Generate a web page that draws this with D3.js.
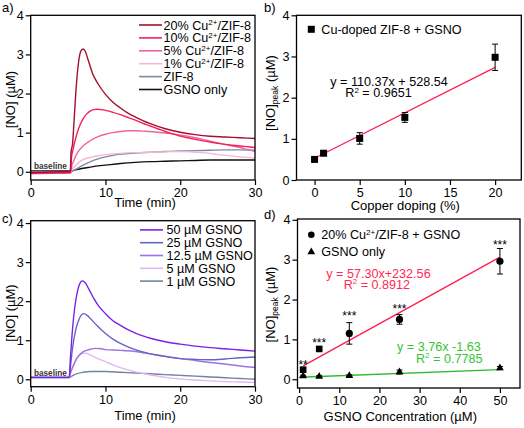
<!DOCTYPE html>
<html><head><meta charset="utf-8">
<script src="https://cdn.jsdelivr.net/npm/d3@7"></script>
<style>
html,body{margin:0;padding:0;background:#fff;}
svg{display:block;font-family:"Liberation Sans",Arial,Helvetica,sans-serif;}
</style></head>
<body>
<svg id="c" width="524" height="428"></svg>
<script>
// ---------- DATA ----------
// Panel a: NO release curves (time min, [NO] µM)
const aNames = ["20% Cu²⁺/ZIF-8","10% Cu²⁺/ZIF-8","5% Cu²⁺/ZIF-8","1% Cu²⁺/ZIF-8","ZIF-8","GSNO only"];
const aColors = ["#a50f2f","#f5205a","#f063a2","#f8b6d2","#7a89a4","#111111"];
const a20 = [[0,-0.02],[2,-0.01],[4,0],[5.3,0.01],[5.4,0.5],[5.6,0.72],[5.8,1.3],[6.1,2.2],[6.4,2.8],[6.7,3.08],[7.0,3.14],[7.3,3.08],[7.7,2.85],[8.3,2.5],[9,2.25],[10,1.98],[11,1.78],[12,1.63],[13,1.5],[14,1.4],[15,1.31],[16,1.23],[18,1.1],[20,1.01],[22,0.95],[24,0.91],[26,0.89],[28,0.87],[30,0.85]];
const a10 = [[0,-0.04],[3,-0.03],[5.35,-0.02],[5.45,0.35],[5.7,0.6],[6,0.85],[6.5,1.15],[7,1.35],[7.5,1.48],[8,1.56],[8.8,1.6],[9.5,1.59],[10,1.57],[11,1.52],[12,1.46],[13,1.39],[14,1.32],[15,1.24],[16,1.17],[17,1.1],[18,1.03],[19,0.97],[20,0.91],[21,0.87],[22,0.83],[23,0.79],[24,0.76],[25,0.73],[26,0.7],[27,0.68],[28,0.66],[29,0.64],[30,0.62]];
const a5 = [[0,-0.05],[3,-0.04],[5.35,-0.03],[5.45,0.1],[5.8,0.3],[6.3,0.5],[7,0.66],[8,0.8],[9,0.9],[10,0.96],[11,1.0],[12,1.03],[13,1.05],[14,1.05],[15,1.04],[16,1.03],[17,1.01],[18,0.99],[19,0.97],[20,0.94],[21,0.91],[22,0.87],[23,0.83],[24,0.78],[25,0.74],[26,0.7],[27,0.66],[28,0.62],[29,0.57],[30,0.52]];
const a1 = [[0,-0.03],[5.35,-0.02],[5.5,0.05],[6,0.15],[6.5,0.25],[7,0.31],[8,0.37],[9,0.41],[10,0.44],[12,0.47],[14,0.49],[16,0.5],[18,0.51],[20,0.52],[22,0.5],[23,0.49],[24,0.47],[25,0.44],[26,0.42],[27,0.4],[28,0.38],[30,0.35]];
const aZif = [[0,0.0],[5.35,0.0],[5.6,0.02],[6,0.06],[7,0.17],[8,0.26],[9,0.33],[10,0.38],[11,0.42],[12,0.45],[14,0.48],[16,0.5],[18,0.52],[20,0.53],[22,0.54],[24,0.55],[26,0.56],[28,0.56],[30,0.55]];
const aGsno = [[0,0.02],[5.35,0.02],[6,0.05],[7,0.09],[8,0.12],[9,0.15],[10,0.17],[12,0.21],[14,0.24],[16,0.26],[18,0.27],[20,0.28],[22,0.29],[24,0.3],[26,0.3],[28,0.3],[30,0.3]];
const aSeries = [a20,a10,a5,a1,aZif,aGsno];

// Panel b: peak NO vs copper doping
const bDoping = [0,1,5,10,20];
const bPeak = [0.5,0.65,1.01,1.52,2.98];
const bErr = [0.03,0.04,0.14,0.12,0.32];
const bFit = {slope:0.11037, intercept:0.52854, from:0, to:20};

// Panel c: NO release with GSNO concentration
const cNames = ["50 µM GSNO","25 µM GSNO","12.5 µM GSNO","5 µM GSNO","1 µM GSNO"];
const cColors = ["#7a22e6","#6464c8","#a070e0","#e2b8f2","#74849c"];
const c50 = [[0,0.05],[5.15,0.05],[5.3,0.5],[5.6,1.3],[5.9,1.85],[6.2,2.2],[6.5,2.42],[6.9,2.52],[7.3,2.47],[7.8,2.3],[8.5,2.05],[9,1.9],[10,1.68],[11,1.5],[12,1.38],[13,1.27],[14,1.18],[15,1.11],[16,1.05],[18,0.96],[20,0.9],[22,0.85],[24,0.81],[26,0.78],[28,0.75],[30,0.72]];
const c25 = [[0,0.05],[5.15,0.05],[5.3,0.3],[5.6,0.8],[6,1.25],[6.5,1.55],[7.1,1.68],[7.6,1.63],[8,1.55],[9,1.35],[10,1.17],[11,1.03],[12,0.92],[13,0.83],[14,0.76],[15,0.7],[16,0.65],[18,0.58],[20,0.53],[22,0.51],[24,0.5],[26,0.52],[28,0.55],[30,0.57]];
const c12 = [[0,0.05],[5.15,0.05],[5.3,0.15],[5.7,0.35],[6.2,0.55],[7,0.7],[8,0.77],[8.6,0.79],[9.5,0.78],[10,0.76],[11,0.75],[12,0.74],[13,0.73],[14,0.71],[15,0.68],[16,0.65],[17,0.62],[18,0.59],[19,0.56],[20,0.53],[22,0.48],[24,0.43],[26,0.39],[28,0.34],[30,0.3]];
const c5 = [[0,0.05],[5.15,0.05],[5.3,0.15],[5.7,0.35],[6.2,0.55],[6.8,0.65],[7.3,0.67],[8,0.62],[9,0.53],[10,0.45],[11,0.37],[12,0.3],[13,0.24],[14,0.19],[15,0.15],[16,0.11],[17,0.08],[18,0.05],[20,0.01],[22,-0.02],[24,-0.04],[26,-0.06],[28,-0.07],[30,-0.08]];
const c1 = [[0,0.04],[5.15,0.04],[5.5,0.08],[6,0.13],[7,0.18],[8,0.2],[9,0.2],[10,0.2],[12,0.18],[14,0.16],[16,0.14],[18,0.12],[20,0.1],[22,0.08],[24,0.06],[26,0.04],[28,0.02],[30,0.0]];
const cSeries = [c50,c25,c12,c5,c1];

// Panel d: peak NO vs GSNO concentration
const dConc = [1,5,12.5,25,50];
const dCu = [0.24,0.76,1.15,1.5,2.96];
const dCuErr = [0.04,0.04,0.27,0.12,0.32];
const dGsno = [0.08,0.07,0.09,0.18,0.28];
const dGsnoErr = [0.02,0.02,0.02,0.05,0.04];
const dStars = ["**","***","***","***","***"];
const dStarY = [0.42,0.98,1.64,1.83,3.42];
const dCuFit = {slope:0.0557, intercept:0.28, from:1, to:50};
const dGsnoFit = {slope:0.0038, intercept:0.05, from:0, to:50};

const timeTicks = [0,10,20,30];
const yTicks = [0,1,2,3,4];
const bTicks = [0,5,10,15,20];
const dTicks = [0,10,20,30,40,50];

// ---------- DRAWING ----------
const svg = d3.select("#c");
const FONT = 12.6;
const fmt = d3.format("d");

function frame(x, y, xt, yt) {
  const g = svg.append("g");
  const [x0,x1] = x.range(), [y0,y1] = y.range();
  const ax = g.append("g").attr("transform",`translate(0,${y0})`)
    .call(d3.axisBottom(x).tickValues(xt).tickFormat(fmt).tickSize(5).tickPadding(3).tickSizeOuter(0));
  const ay = g.append("g").attr("transform",`translate(${x0},0)`)
    .call(d3.axisLeft(y).tickValues(yt).tickFormat(fmt).tickSize(5).tickPadding(2).tickSizeOuter(0));
  [ax,ay].forEach(a=>{
    a.select(".domain").remove();
    a.selectAll("text").attr("font-size",FONT).attr("fill","#000").attr("font-family",null);
    a.selectAll("line").attr("stroke","#000").attr("stroke-width",1.2);
  });
  g.append("rect").attr("x",x0).attr("y",y1).attr("width",x1-x0).attr("height",y0-y1)
    .attr("fill","none").attr("stroke","#000").attr("stroke-width",1.3);
  return g;
}

function ylabel(cx, cy, peak) {
  const t = svg.append("text").attr("transform",`translate(${cx},${cy}) rotate(-90)`)
    .attr("text-anchor","middle").attr("font-size",13);
  t.append("tspan").text("[NO]");
  if (peak) {
    t.append("tspan").attr("font-size",8.5).attr("dy",3).text("peak");
    t.append("tspan").attr("dy",-3).text(" (µM)");
  } else t.append("tspan").text(" (µM)");
}
function xlabel(cx, y, s) {
  svg.append("text").attr("x",cx).attr("y",y).attr("text-anchor","middle").attr("font-size",13).text(s);
}
function supText(x, y, s, color) {
  const t = svg.append("text").attr("x",x).attr("y",y).attr("font-size",FONT).attr("fill",color||"#000");
  const m = s.match(/^(.*?)(²⁺|²)(.*)$/);
  if (!m) { t.text(s); return t; }
  t.append("tspan").text(m[1]);
  t.append("tspan").attr("font-size",8).attr("dy",-4.5).text(m[2]==="²⁺"?"2+":"2");
  t.append("tspan").attr("dy",4.5).text(m[3]);
  return t;
}

// ---- Panel a ----
const xa = d3.scaleLinear().domain([0,30]).range([30.7,255]);
const ya = d3.scaleLinear().domain([-0.21,4]).range([180,15.3]);
const line_a = d3.line().x(d=>xa(d[0])).y(d=>ya(d[1])).curve(d3.curveMonotoneX);
const defs = svg.append("defs");
defs.append("clipPath").attr("id","clipA").append("rect")
  .attr("x",30.7).attr("y",15.3).attr("width",224.3).attr("height",164.7);
const ga = svg.append("g").attr("clip-path","url(#clipA)");
aSeries.slice().reverse().forEach((s,i)=>{
  const k = aSeries.length-1-i;
  ga.append("path").attr("d",line_a(s)).attr("fill","none").attr("stroke",aColors[k]).attr("stroke-width",1.4);
});
frame(xa, ya, timeTicks, yTicks);
aNames.forEach((n,i)=>{
  const yy = 25 + i*12.9;
  svg.append("line").attr("x1",139).attr("x2",162).attr("y1",yy).attr("y2",yy).attr("stroke",aColors[i]).attr("stroke-width",1.6);
  supText(163.5, yy+4.5, n);
});
svg.append("text").attr("x",34).attr("y",168.5).attr("font-size",8.2).attr("font-weight","600").attr("fill","#333").text("baseline");
ylabel(15, 99.5, false);
xlabel(145, 207, "Time (min)");
svg.append("text").attr("x",2).attr("y",11.5).attr("font-size",13).text("a)");

// ---- Panel b ----
const xb = d3.scaleLinear().domain([-2,22.9]).range([296.5,521.3]);
const yb = d3.scaleLinear().domain([0,4]).range([180,15.3]);
frame(xb, yb, bTicks, yTicks);
svg.append("line").attr("x1",xb(bFit.from)).attr("x2",xb(bFit.to))
  .attr("y1",yb(bFit.intercept+bFit.slope*bFit.from)).attr("y2",yb(bFit.intercept+bFit.slope*bFit.to))
  .attr("stroke","#ff2050").attr("stroke-width",1.3);
bDoping.forEach((d,i)=>{
  const cx = xb(d);
  const g = svg.append("g").attr("stroke","#000").attr("stroke-width",1);
  g.append("line").attr("x1",cx).attr("x2",cx).attr("y1",yb(bPeak[i]-bErr[i])).attr("y2",yb(bPeak[i]+bErr[i]));
  [bPeak[i]-bErr[i], bPeak[i]+bErr[i]].forEach(v=>g.append("line").attr("x1",cx-3).attr("x2",cx+3).attr("y1",yb(v)).attr("y2",yb(v)));
  svg.append("rect").attr("x",cx-3.5).attr("y",yb(bPeak[i])-3.5).attr("width",7).attr("height",7).attr("fill","#000");
});
svg.append("rect").attr("x",311.3-3.5).attr("y",29.3-3.5).attr("width",7).attr("height",7).attr("fill","#000");
svg.append("text").attr("x",321.3).attr("y",33.8).attr("font-size",FONT).text("Cu-doped ZIF-8 + GSNO");
svg.append("text").attr("x",330.3).attr("y",85.5).attr("font-size",FONT).text("y = 110.37x + 528.54");
supText(345.3, 97.2, "R² = 0.9651");
ylabel(275, 93, true);
xlabel(405.3, 209.5, "Copper doping (%)");
svg.append("text").attr("x",264).attr("y",11.5).attr("font-size",13).text("b)");

// ---- Panel c ----
const xc = d3.scaleLinear().domain([0,30]).range([30.7,255]);
const yc = d3.scaleLinear().domain([-0.19,4.06]).range([386.7,220.7]);
const line_c = d3.line().x(d=>xc(d[0])).y(d=>yc(d[1])).curve(d3.curveMonotoneX);
defs.append("clipPath").attr("id","clipC").append("rect")
  .attr("x",30.7).attr("y",220.7).attr("width",224.3).attr("height",166);
const gc = svg.append("g").attr("clip-path","url(#clipC)");
cSeries.slice().reverse().forEach((s,i)=>{
  const k = cSeries.length-1-i;
  gc.append("path").attr("d",line_c(s)).attr("fill","none").attr("stroke",cColors[k]).attr("stroke-width",1.4);
});
frame(xc, yc, timeTicks, yTicks);
cNames.forEach((n,i)=>{
  const yy = 229.9 + i*12.8;
  svg.append("line").attr("x1",140).attr("x2",163).attr("y1",yy).attr("y2",yy).attr("stroke",cColors[i]).attr("stroke-width",1.6);
  svg.append("text").attr("x",166.5).attr("y",yy+4.5).attr("font-size",FONT).text(n);
});
svg.append("text").attr("x",34).attr("y",375.5).attr("font-size",8.2).attr("font-weight","600").attr("fill","#333").text("baseline");
ylabel(15, 313, false);
xlabel(145, 420, "Time (min)");
svg.append("text").attr("x",2).attr("y",223).attr("font-size",13).text("c)");

// ---- Panel d ----
const xd = d3.scaleLinear().domain([-0.4,55]).range([297.5,520]);
const yd = d3.scaleLinear().domain([-0.22,4.02]).range([388,219]);
frame(xd, yd, dTicks, yTicks);
[[dCuFit,"#ff2050"],[dGsnoFit,"#2eb82e"]].forEach(([f,col])=>{
  svg.append("line").attr("x1",xd(f.from)).attr("x2",xd(f.to))
    .attr("y1",yd(f.intercept+f.slope*f.from)).attr("y2",yd(f.intercept+f.slope*f.to))
    .attr("stroke",col).attr("stroke-width",1.4);
});
function errbar(cx, v, e, ys) {
  const g = svg.append("g").attr("stroke","#000").attr("stroke-width",1);
  g.append("line").attr("x1",cx).attr("x2",cx).attr("y1",ys(v-e)).attr("y2",ys(v+e));
  [v-e, v+e].forEach(u=>g.append("line").attr("x1",cx-3).attr("x2",cx+3).attr("y1",ys(u)).attr("y2",ys(u)));
}
const tri = d3.symbol().type(d3.symbolTriangle).size(26);
dConc.forEach((c,i)=>{
  const cx = xd(c);
  errbar(cx, dGsno[i], dGsnoErr[i], yd);
  svg.append("path").attr("d",tri()).attr("transform",`translate(${cx},${yd(dGsno[i])})`).attr("fill","#000");
  errbar(cx, dCu[i], dCuErr[i], yd);
  if (i<2) svg.append("rect").attr("x",cx-3.3).attr("y",yd(dCu[i])-3.3).attr("width",6.6).attr("height",6.6).attr("fill","#000");
  else svg.append("circle").attr("cx",cx).attr("cy",yd(dCu[i])).attr("r",3.6).attr("fill","#000");
  svg.append("text").attr("x",cx).attr("y",yd(dStarY[i])+6.5).attr("text-anchor","middle").attr("font-size",12).text(dStars[i]);
});
svg.append("circle").attr("cx",311.3).attr("cy",234.7).attr("r",3.3).attr("fill","#000");
supText(321.3, 239.2, "20% Cu²⁺/ZIF-8 + GSNO");
svg.append("path").attr("d",tri()).attr("transform","translate(311.3,252)").attr("fill","#000");
svg.append("text").attr("x",321.3).attr("y",256.2).attr("font-size",FONT).text("GSNO only");
svg.append("text").attr("x",326.3).attr("y",277.8).attr("font-size",FONT).attr("fill","#ff2a55").text("y = 57.30x+232.56");
supText(343.7, 288.8, "R² = 0.8912", "#ff2a55");
svg.append("text").attr("x",397).attr("y",351.2).attr("font-size",FONT).attr("fill","#33c433").text("y = 3.76x -1.63");
supText(416, 362.8, "R² = 0.7785", "#33c433");
ylabel(275, 304.5, true);
xlabel(400.3, 420.5, "GSNO Concentration (µM)");
svg.append("text").attr("x",264).attr("y",219).attr("font-size",13).text("d)");
</script>
</body></html>
